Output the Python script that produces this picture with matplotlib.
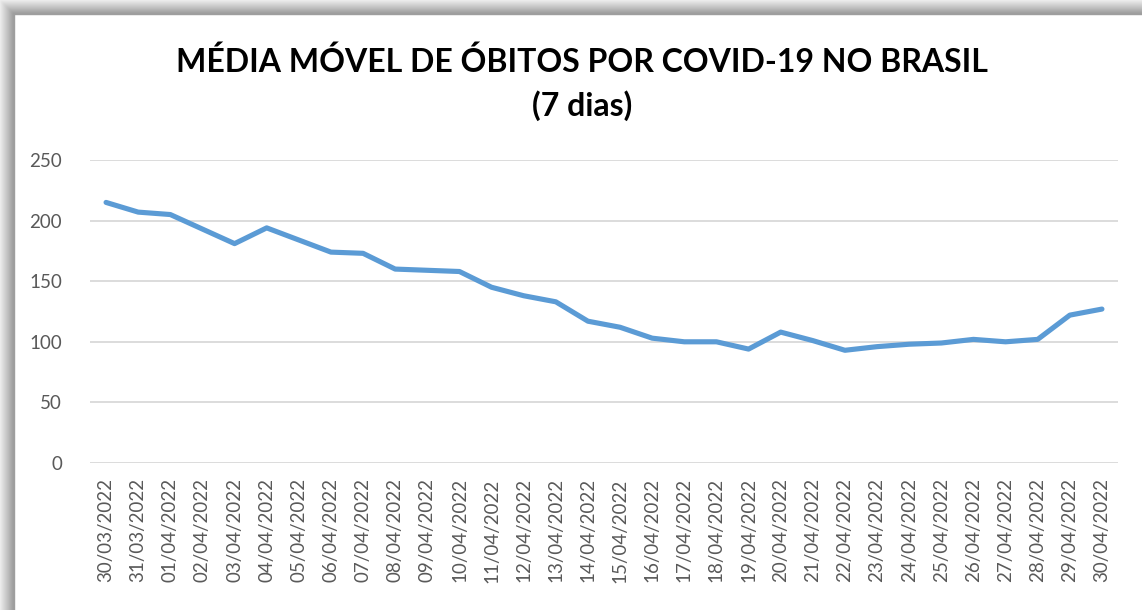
import numpy as np
import matplotlib.pyplot as plt
from matplotlib.patches import Rectangle

# moving average of deaths (7 days)
dates = ['30/03/2022', '31/03/2022', '01/04/2022', '02/04/2022', '03/04/2022',
         '04/04/2022', '05/04/2022', '06/04/2022', '07/04/2022', '08/04/2022',
         '09/04/2022', '10/04/2022', '11/04/2022', '12/04/2022', '13/04/2022',
         '14/04/2022', '15/04/2022', '16/04/2022', '17/04/2022', '18/04/2022',
         '19/04/2022', '20/04/2022', '21/04/2022', '22/04/2022', '23/04/2022',
         '24/04/2022', '25/04/2022', '26/04/2022', '27/04/2022', '28/04/2022',
         '29/04/2022', '30/04/2022']
media = [215, 207, 205, 193, 181, 194, 184, 174, 173, 160,
         159, 158, 145, 138, 133, 117, 112, 103, 100, 100,
         94, 108, 101, 93, 96, 98, 99, 102, 100, 102,
         122, 127]
yticks = [0, 50, 100, 150, 200, 250]

plt.rcParams['font.family'] = ['Lato', 'DejaVu Sans']

fig = plt.figure(figsize=(11.42, 6.10), dpi=100)
fig.patch.set_facecolor('white')

# shadow frame on top and left edges
W, H = 1142, 610
for i, c in enumerate(np.linspace(0.93, 0.62, 14)):
    fig.patches.append(Rectangle((i / W, 0), 1 / W, 1 - i / H,
                                 transform=fig.transFigure,
                                 color=str(c), zorder=0))
    fig.patches.append(Rectangle((i / W, 1 - (i + 1) / H), 1 - i / W, 1 / H,
                                 transform=fig.transFigure,
                                 color=str(c), zorder=0))

ax = fig.add_axes([90 / W, 147 / H, 1028 / W, 303 / H])
x = np.arange(len(dates))
ax.plot(x, media, color='#5B9BD5', lw=3.7, solid_capstyle='round',
        solid_joinstyle='round', zorder=3)

ax.set_xlim(-0.5, len(dates) - 0.5)
ax.set_ylim(0, 250)
ax.set_yticks(yticks)
ax.set_xticks(x)
ax.set_xticklabels(dates, rotation=90)
ax.tick_params(axis='both', length=0, labelsize=13.5, labelcolor='#595959')
ax.tick_params(axis='y', pad=20)
ax.tick_params(axis='x', pad=11)

ax.grid(axis='y', color='#D9D9D9', lw=1.3)
ax.set_axisbelow(True)
for s in ax.spines.values():
    s.set_visible(False)

fig.text(582 / W, 1 - 62 / H, 'MÉDIA MÓVEL DE ÓBITOS POR COVID-19 NO BRASIL',
         ha='center', va='center', fontsize=23, fontweight='bold')
fig.text(582 / W, 1 - 106 / H, '(7 dias)',
         ha='center', va='center', fontsize=23, fontweight='bold')

plt.savefig('out.png', dpi=100)
plt.close()
